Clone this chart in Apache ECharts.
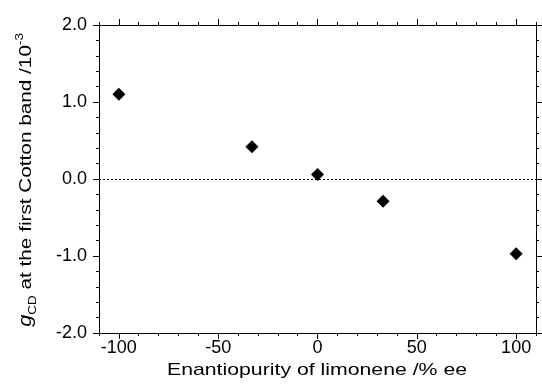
<!DOCTYPE html>
<html>
<head>
<meta charset="utf-8">
<script src="https://cdn.jsdelivr.net/npm/echarts@6/dist/echarts.min.js"></script>
<style>
  html, body { margin: 0; padding: 0; background: #fff; }
  #chart { width: 542px; height: 392px; }
</style>
</head>
<body>
<div id="chart"></div>
<script>
// Enantiopurity of limonene (% ee) and the g-factor at the first Cotton band (x 10^-3)
const eePercent = [-100, -33, 0, 33, 100];
const gCD = [1.10, 0.42, 0.06, -0.29, -0.97];

const xMajorTicks = [-100, -50, 0, 50, 100];
const xMinorTicks = [-110, -90, -80, -70, -60, -40, -30, -20, -10, 10, 20, 30, 40, 60, 70, 80, 90, 110];
const yTickLabels = ['-2.0', '-1.0', '0.0', '1.0', '2.0'];

const FONT = '"Liberation Sans", Arial, Helvetica, sans-serif';
const INK = '#000';

const chart = echarts.init(document.getElementById('chart'), null, { renderer: 'canvas' });

function xAxisDef(position, ticks, tickLen, showLine, showLabels) {
  return {
    type: 'value', position: position, min: -110, max: 110,
    axisLine: { show: showLine, onZero: false, lineStyle: { color: INK, width: 1 } },
    axisTick: { show: true, customValues: ticks, length: tickLen, inside: false, lineStyle: { color: INK, width: 1 } },
    axisLabel: showLabels
      ? { show: true, customValues: xMajorTicks, color: INK, fontFamily: FONT, fontSize: 18, margin: 6 }
      : { show: false },
    splitLine: { show: false }
  };
}

function yAxisDef(position, showLabels) {
  return {
    type: 'value', position: position, min: -2, max: 2, interval: 1,
    axisLine: { show: true, onZero: false, lineStyle: { color: INK, width: 1 } },
    axisTick: { show: true, length: 6, inside: false, lineStyle: { color: INK, width: 1 } },
    minorTick: { show: true, splitNumber: 5, length: 3, lineStyle: { color: INK, width: 1 } },
    axisLabel: showLabels
      ? { show: true, color: INK, fontFamily: FONT, fontSize: 18, margin: 12,
          formatter: function (v) { return yTickLabels[Math.round(v) + 2]; } }
      : { show: false },
    splitLine: { show: false }
  };
}

chart.setOption({
  animation: false,
  backgroundColor: '#fff',
  grid: { left: 99, top: 25, right: 6, bottom: 59, containLabel: false },
  xAxis: [
    xAxisDef('bottom', xMajorTicks, 6, true, true),
    xAxisDef('bottom', xMinorTicks, 3, false, false),
    xAxisDef('top', xMajorTicks, 6, true, false),
    xAxisDef('top', xMinorTicks, 3, false, false)
  ],
  yAxis: [
    yAxisDef('left', true),
    yAxisDef('right', false)
  ],
  series: [{
    type: 'scatter',
    xAxisIndex: 0, yAxisIndex: 0,
    symbol: 'diamond',
    symbolSize: 13,
    itemStyle: { color: INK, opacity: 1 },
    data: eePercent.map(function (x, i) { return [x, gCD[i]]; }),
    markLine: {
      silent: true, symbol: 'none', animation: false,
      label: { show: false },
      lineStyle: { color: INK, width: 1, type: [2, 2], opacity: 1 },
      data: [{ yAxis: 0 }]
    },
    z: 5
  }],
  graphic: [
    {
      type: 'text', x: 317, y: 370, scaleX: 1.25,
      style: {
        text: 'Enantiopurity of limonene /% ee',
        font: '17px ' + FONT, fill: INK, align: 'center', verticalAlign: 'middle'
      }
    },
    {
      type: 'text', x: 26, y: 180, rotation: Math.PI / 2, scaleX: 1.22,
      style: {
        text: '{g|g}{sub|CD} at the first Cotton band /10{sup|-3}',
        font: '17px ' + FONT, fill: INK, align: 'center', verticalAlign: 'middle',
        lineHeight: 24,
        rich: {
          g: { fontStyle: 'italic', fontSize: 18, fontFamily: FONT, lineHeight: 24 },
          sub: { fontSize: 11, fontFamily: FONT, lineHeight: 11, verticalAlign: 'bottom' },
          sup: { fontSize: 11, fontFamily: FONT, lineHeight: 11, verticalAlign: 'top' }
        }
      }
    }
  ]
});
</script>
</body>
</html>
